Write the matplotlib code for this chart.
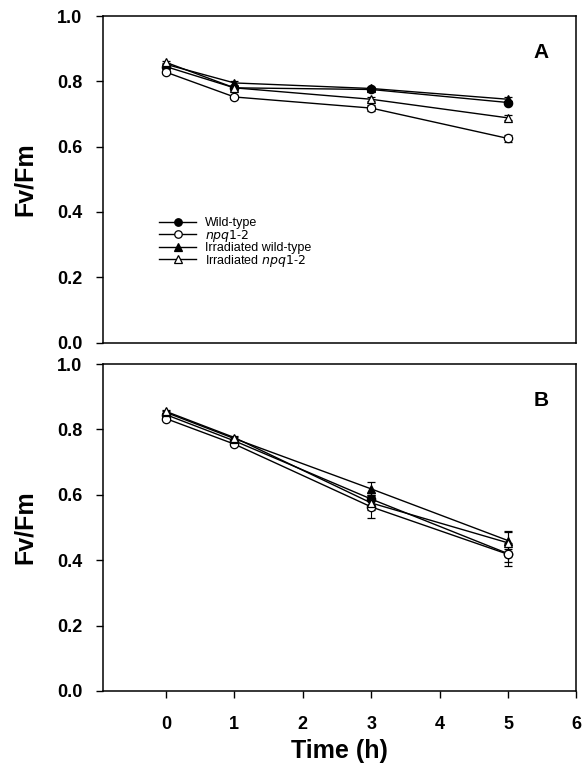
import matplotlib
matplotlib.use('Agg')
import matplotlib.pyplot as plt
from matplotlib.lines import Line2D
import numpy as np

plt.rcParams['font.family'] = ['Liberation Sans', 'DejaVu Sans']

# time points (h)
time = [0, 1, 3, 5]

# panel A
a_wt = [0.845, 0.780, 0.775, 0.735]
a_npq = [0.828, 0.752, 0.718, 0.625]
a_irr_wt = [0.852, 0.795, 0.778, 0.745]
a_irr_npq = [0.858, 0.780, 0.745, 0.688]
a_wt_err = [0.005, 0.005, 0.005, 0.006]
a_npq_err = [0.005, 0.006, 0.008, 0.010]
a_irr_wt_err = [0.004, 0.005, 0.005, 0.006]
a_irr_npq_err = [0.004, 0.005, 0.006, 0.008]

# panel B
b_wt = [0.845, 0.765, 0.587, 0.420]
b_npq = [0.833, 0.755, 0.563, 0.418]
b_irr_wt = [0.852, 0.772, 0.618, 0.460]
b_irr_npq = [0.855, 0.775, 0.575, 0.453]
b_wt_err = [0.005, 0.006, 0.020, 0.025]
b_npq_err = [0.005, 0.006, 0.035, 0.035]
b_irr_wt_err = [0.004, 0.006, 0.020, 0.025]
b_irr_npq_err = [0.004, 0.006, 0.020, 0.037]

labels = ['Wild-type', '$\\it{npq1}$-$\\it{2}$', 'Irradiated wild-type',
          'Irradiated $\\it{npq1}$-$\\it{2}$']
styles = [('o', 'k'), ('o', 'white'), ('^', 'k'), ('^', 'white')]

fig = plt.figure(figsize=(5.87, 7.73), dpi=100)
axA = fig.add_axes([0.1755, 0.5569, 0.8065, 0.4224])
axB = fig.add_axes([0.1755, 0.1061, 0.8065, 0.4230])


def draw(ax, series, errs):
    for s, e, (m, fc) in zip(series, errs, styles):
        ax.errorbar(time, s, yerr=e, marker=m, mfc=fc, mec='k', mew=0.9,
                    ms=6, color='k', lw=1.0, capsize=3, elinewidth=0.8)
    ax.set_xlim(-0.92, 6)
    ax.set_ylim(0, 1.0)
    ticks = np.arange(0, 1.01, 0.2)
    ax.set_yticks(ticks)
    ax.set_yticklabels(['%.1f' % v for v in ticks], fontsize=13,
                       fontweight='bold')
    ax.set_ylabel('Fv/Fm', fontsize=18, fontweight='bold', labelpad=14)
    ax.tick_params(axis='y', direction='out', length=5, width=1, pad=10)
    for sp in ax.spines.values():
        sp.set_linewidth(1.1)


draw(axA, [a_wt, a_npq, a_irr_wt, a_irr_npq],
     [a_wt_err, a_npq_err, a_irr_wt_err, a_irr_npq_err])
draw(axB, [b_wt, b_npq, b_irr_wt, b_irr_npq],
     [b_wt_err, b_npq_err, b_irr_wt_err, b_irr_npq_err])

axA.tick_params(axis='x', bottom=False, labelbottom=False)
axB.set_xticks(range(0, 7))
axB.set_xticklabels([str(i) for i in range(0, 7)], fontsize=13,
                    fontweight='bold')
axB.tick_params(axis='x', direction='out', length=5, width=1, pad=13)
axB.set_xlabel('Time (h)', fontsize=18, fontweight='bold', labelpad=4)

axA.text(0.925, 0.888, 'A', transform=axA.transAxes, fontsize=15,
         fontweight='bold', ha='center', va='center')
axB.text(0.925, 0.888, 'B', transform=axB.transAxes, fontsize=15,
         fontweight='bold', ha='center', va='center')

handles = [Line2D([], [], color='k', lw=1.0, marker=m, mfc=fc, mec='k',
                  mew=0.9, ms=6) for m, fc in styles]
axA.legend(handles, labels, loc='upper left', bbox_to_anchor=(0.106, 0.403),
           frameon=False, fontsize=9, handlelength=2.9, handletextpad=0.75,
           labelspacing=-0.12, borderpad=0, markerscale=0.9)

fig.savefig('out.png', dpi=100)
